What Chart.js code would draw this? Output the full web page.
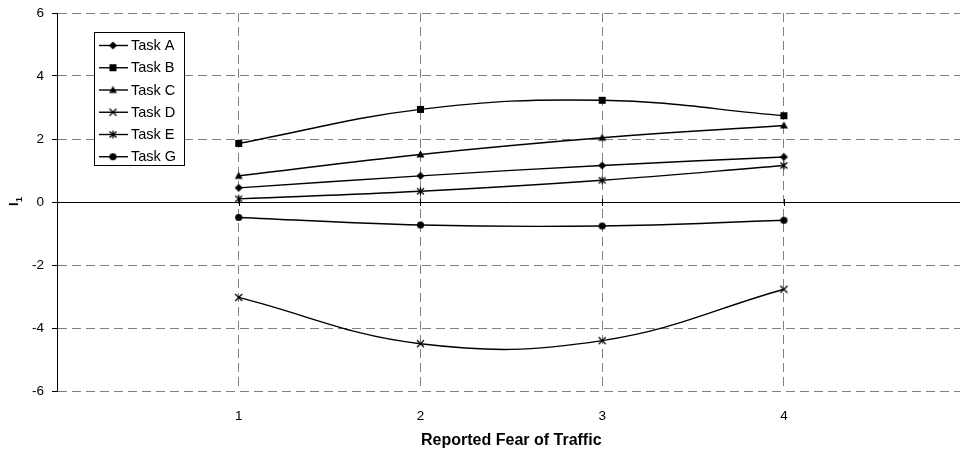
<!DOCTYPE html>
<html>
<head>
<meta charset="utf-8">
<script src="https://cdn.jsdelivr.net/npm/chart.js@4.4.0/dist/chart.umd.min.js"></script>
<style>
  html, body { margin: 0; padding: 0; background: #fff; overflow: hidden; }
  #wrap { width: 972px; height: 455px; }
</style>
</head>
<body>
<div id="wrap"><canvas id="fearChart" width="972" height="455"></canvas></div>
<script>
const categories = [1, 2, 3, 4];
const taskA = [0.45, 0.83, 1.16, 1.43];
const taskB = [1.86, 2.94, 3.23, 2.74];
const taskC = [0.83, 1.51, 2.04, 2.43];
const taskD = [-3.03, -4.50, -4.40, -2.77];
const taskE = [0.10, 0.34, 0.69, 1.16];
const taskG = [-0.49, -0.73, -0.76, -0.58];
const seriesNames = ['Task A', 'Task B', 'Task C', 'Task D', 'Task E', 'Task G'];
const yTicks = [-6, -4, -2, 0, 2, 4, 6];

const FONT = '"Liberation Sans", Arial, sans-serif';

// small canvases used as point markers (and reused in the legend)
function marker(kind) {
    const c = document.createElement('canvas');
    c.width = 11; c.height = 11;
    const g = c.getContext('2d');
    g.fillStyle = '#000';
    g.strokeStyle = '#000';
    g.lineWidth = 1.3;
    g.beginPath();
    if (kind === 'diamond') {
        g.moveTo(5.5, 1.5); g.lineTo(9.5, 5.5); g.lineTo(5.5, 9.5); g.lineTo(1.5, 5.5);
        g.closePath(); g.fill();
    } else if (kind === 'square') {
        g.rect(2, 2, 7, 7); g.fill();
    } else if (kind === 'triangle') {
        g.moveTo(5.5, 1.5); g.lineTo(9.5, 8.5); g.lineTo(1.5, 8.5);
        g.closePath(); g.fill();
    } else if (kind === 'cross') {
        g.moveTo(2, 2); g.lineTo(9, 9); g.moveTo(9, 2); g.lineTo(2, 9); g.stroke();
    } else if (kind === 'star') {
        g.moveTo(2, 2.5); g.lineTo(9, 8.5); g.moveTo(9, 2.5); g.lineTo(2, 8.5);
        g.moveTo(5.5, 1.5); g.lineTo(5.5, 9.5); g.stroke();
    } else {
        g.arc(5.5, 5.5, 3.6, 0, Math.PI * 2); g.fill();
    }
    return c;
}

const markers = ['diamond', 'square', 'triangle', 'cross', 'star', 'circle'].map(marker);
const values = [taskA, taskB, taskC, taskD, taskE, taskG];

const datasets = values.map((vals, i) => ({
    label: seriesNames[i],
    data: categories.map((x, j) => ({ x: x, y: vals[j] })),
    borderColor: '#000',
    borderWidth: 1.4,
    backgroundColor: '#000',
    pointStyle: markers[i],
    pointRadius: 5,
    tension: 0.4,
    fill: false
}));

// boxed legend in the upper left of the plot
const boxLegend = {
    id: 'boxLegend',
    afterDraw(chart) {
        const ctx = chart.ctx;
        ctx.save();
        ctx.fillStyle = '#fff';
        ctx.strokeStyle = '#000';
        ctx.lineWidth = 1;
        ctx.fillRect(94.5, 32.5, 90, 133);
        ctx.strokeRect(94.5, 32.5, 90, 133);
        ctx.font = '14.5px ' + FONT;
        ctx.textBaseline = 'middle';
        ctx.fillStyle = '#000';
        seriesNames.forEach((name, i) => {
            const y = 45.5 + i * 22.25;
            ctx.beginPath();
            ctx.lineWidth = 1.4;
            ctx.moveTo(99, y);
            ctx.lineTo(128, y);
            ctx.stroke();
            ctx.drawImage(markers[i], 113 - 5.5, y - 5.5);
            ctx.fillText(name, 131, y + 0.5);
        });
        ctx.restore();
    }
};

// y axis title I with subscript 1, and small ticks across the zero line
const axisExtras = {
    id: 'axisExtras',
    beforeDatasetsDraw(chart) {
        const ctx = chart.ctx;
        const xs = chart.scales.x, ys = chart.scales.y;
        const y0 = ys.getPixelForValue(0);
        ctx.save();
        ctx.strokeStyle = '#000';
        ctx.lineWidth = 1;
        categories.forEach(v => {
            const x = Math.round(xs.getPixelForValue(v)) + 0.5;
            ctx.beginPath();
            ctx.moveTo(x, y0 - 3);
            ctx.lineTo(x, y0 + 4);
            ctx.stroke();
        });
        ctx.restore();
    },
    afterDraw(chart) {
        const ctx = chart.ctx;
        ctx.save();
        ctx.rotate(-Math.PI / 2);
        ctx.fillStyle = '#000';
        ctx.textBaseline = 'alphabetic';
        ctx.font = 'bold 13px ' + FONT;
        ctx.fillText('I', -206, 17.5);
        const w = ctx.measureText('I').width;
        ctx.font = 'bold 9px ' + FONT;
        ctx.fillText('1', -206 + w + 0.5, 21.5);
        ctx.restore();
    }
};

new Chart(document.getElementById('fearChart'), {
    type: 'line',
    data: { datasets: datasets },
    plugins: [axisExtras, boxLegend],
    options: {
        responsive: false,
        animation: false,
        layout: { padding: { top: 13, right: 6, left: 0, bottom: 0 } },
        plugins: {
            legend: { display: false },
            tooltip: { enabled: false }
        },
        scales: {
            x: {
                type: 'linear',
                min: 0,
                max: 5,
                afterFit: s => { s.height = 64; },
                afterBuildTicks: s => { s.ticks = categories.map(v => ({ value: v })); },
                ticks: {
                    color: '#000',
                    font: { family: FONT, size: 13.5 },
                    padding: 17,
                    maxRotation: 0
                },
                grid: {
                    color: '#808080',
                    lineWidth: 1,
                    drawTicks: false
                },
                border: { display: false, dash: [9, 5] },
                title: {
                    display: true,
                    text: 'Reported Fear of Traffic',
                    color: '#000',
                    font: { family: FONT, size: 16, weight: 'bold' },
                    padding: { top: 0, bottom: 5 }
                }
            },
            y: {
                min: -6,
                max: 6,
                afterFit: s => { s.width = 57; s.paddingTop = 0; s.paddingBottom = 0; },
                afterBuildTicks: s => { s.ticks = yTicks.map(v => ({ value: v })); },
                ticks: {
                    color: '#000',
                    font: { family: FONT, size: 13.5 },
                    padding: 8
                },
                grid: {
                    color: c => (c.tick && c.tick.value === 0) ? '#000' : '#808080',
                    lineWidth: 1,
                    tickLength: 5,
                    tickColor: '#000'
                },
                border: {
                    display: true,
                    color: '#000',
                    width: 1,
                    dash: c => (c.tick && c.tick.value === 0) ? [] : [9, 5]
                }
            }
        }
    }
});
</script>
</body>
</html>
